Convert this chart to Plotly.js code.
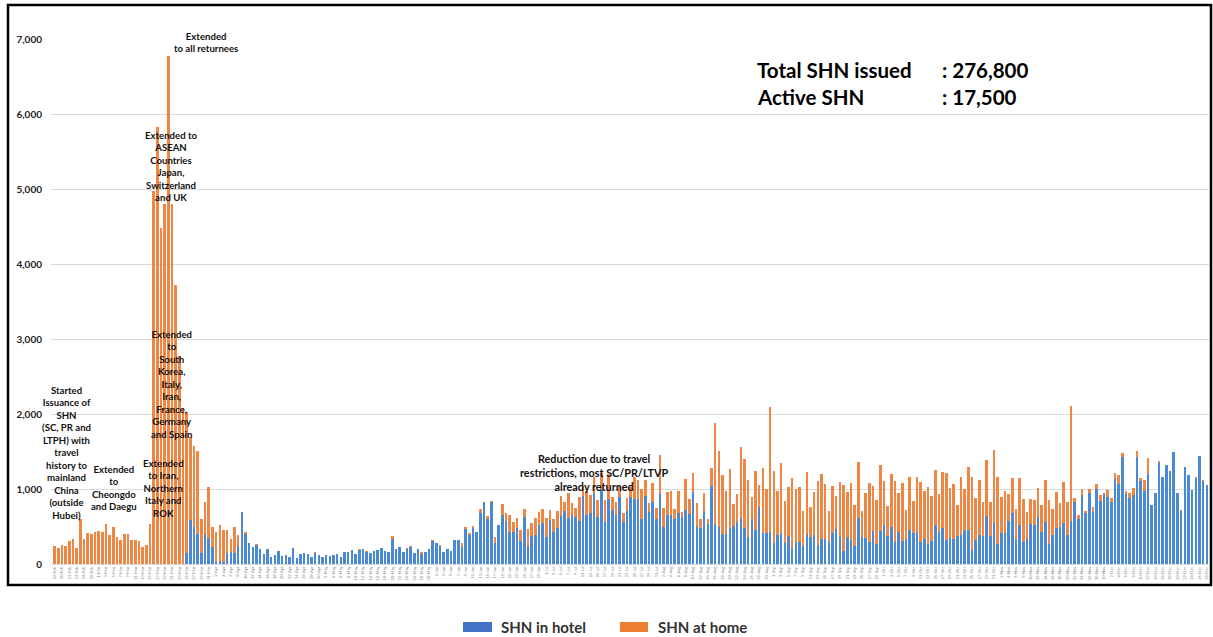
<!DOCTYPE html>
<html>
<head>
<meta charset="utf-8">
<script src="https://cdn.plot.ly/plotly-3.0.1.min.js"></script>
<style>
html,body{margin:0;padding:0;background:#fff;}
#chart{width:1213px;height:637px;}
</style>
</head>
<body>
<div id="chart"></div>
<script>
// ---- DATA ----
var seriesNames = ['SHN in hotel', 'SHN at home'];

var hotel = [
 0,0,0,0,0,0,0,0,0,0,0,0,0,0,0,0,0,0,0,0,0,0,0,0,0,0,0,
 0,0,0,0,0,0,0,0,0,
 142,587,489,396,151,396,347,231,31,40,27,151,164,151,240,689,400,276,231,253,
 196,140,200,89,120,173,111,120,93,218,76,133,142,133,93,142,124,98,116,111,116,133,100,160,165,187,133,191,196,164,
 151,173,191,218,178,160,329,196,222,164,204,231,147,196,133,156,196,307,284,244,156,196,178,320,320,231,471,391,484,431,
 684,827,596,827,276,524,658,573,431,431,476,311,631,240,373,382,516,551,360,587,431,484,640,707,609,653,631,573,911,653,
 684,951,622,996,560,871,720,653,898,564,707,889,871,871,605,907,698,822,604,938,498,658,653,596,676,631,720,671,956,507,
 480,707,533,1040,533,498,404,404,484,511,564,613,480,360,604,453,760,420,413,431,276,387,409,276,373,218,298,298,240,404,
 364,382,253,338,338,298,418,462,373,178,356,320,244,609,356,342,289,444,267,440,520,373,498,298,422,307,329,453,418,431,
 298,338,262,307,524,427,476,320,342,333,373,387,458,453,187,320,382,373,640,373,542,271,413,413,573,676,333,516,289,329,
 533,516,631,431,560,267,387,484,493,551,391,578,831,596,920,684,951,698,1000,840,933,889,831,1133,1067,1427,933,876,920,1431,
 1107,973,1196,782,947,1347,1164,1320,1240,1489,942,707,1298,1191,987,1151,1440,1102,1058
];

var home = [
 240,218,253,245,307,333,213,600,333,409,396,422,440,431,529,391,493,355,315,404,404,320,315,302,231,249,533,
 4970,5830,4480,4800,6780,4800,3716,2780,2080,
 1888,1111,1084,1111,449,426,680,267,400,484,431,307,174,338,147,0,22,0,0,18,
 0,0,0,0,0,0,0,0,0,0,0,0,0,0,0,14,0,0,0,0,8,0,0,0,0,0,0,9,8,9,
 0,0,0,0,0,0,44,0,0,0,14,9,0,0,27,0,0,13,0,9,0,0,0,0,0,53,27,22,23,0,
 49,0,44,17,84,0,138,111,222,133,133,142,98,222,169,227,182,178,249,133,165,227,267,124,342,156,111,316,129,325,
 236,213,231,213,293,325,178,174,142,112,169,142,293,249,400,213,120,262,143,511,249,302,325,142,297,67,413,191,262,302,
 124,235,67,240,1342,1013,783,574,778,289,365,943,915,764,289,791,290,860,583,1658,968,586,933,568,649,924,702,729,467,823,
 396,582,858,862,729,409,626,440,720,871,608,764,543,751,351,609,791,596,586,875,582,400,702,804,520,769,391,703,422,733,
 800,640,760,595,729,506,755,889,676,734,414,769,538,836,969,556,738,449,742,458,978,889,485,565,360,475,400,635,578,369,
 334,337,387,360,560,586,342,480,325,538,431,1529,45,57,84,27,53,58,71,80,18,98,45,76,115,57,45,66,98,76,
 40,147,213,0,0,26,0,0,0,0,0,13,0,0,0,13,0,18,0
];

// tick labels: one every second day, starting 18-Feb
var tickLabels = (
 '18-Feb 20-Feb 22-Feb 24-Feb 26-Feb 28-Feb ' +
 '1-Mar 3-Mar 5-Mar 7-Mar 9-Mar 11-Mar 13-Mar 15-Mar 17-Mar 19-Mar 21-Mar 23-Mar 25-Mar 27-Mar 29-Mar 31-Mar ' +
 '2-Apr 4-Apr 6-Apr 8-Apr 10-Apr 12-Apr 14-Apr 16-Apr 18-Apr 20-Apr 22-Apr 24-Apr 26-Apr 28-Apr 30-Apr ' +
 '2-May 4-May 6-May 8-May 10-May 12-May 14-May 16-May 18-May 20-May 22-May 24-May 26-May 28-May 30-May ' +
 '1-Jun 3-Jun 5-Jun 7-Jun 9-Jun 11-Jun 13-Jun 15-Jun 17-Jun 19-Jun 21-Jun 23-Jun 25-Jun 27-Jun 29-Jun ' +
 '1-Jul 3-Jul 5-Jul 7-Jul 9-Jul 11-Jul 13-Jul 15-Jul 17-Jul 19-Jul 21-Jul 23-Jul 25-Jul 27-Jul 29-Jul 31-Jul ' +
 '2-Aug 4-Aug 6-Aug 8-Aug 10-Aug 12-Aug 14-Aug 16-Aug 18-Aug 20-Aug 22-Aug 24-Aug 26-Aug 28-Aug 30-Aug ' +
 '1-Sep 3-Sep 5-Sep 7-Sep 9-Sep 11-Sep 13-Sep 15-Sep 17-Sep 19-Sep 21-Sep 23-Sep 25-Sep 27-Sep 29-Sep ' +
 '1-Oct 3-Oct 5-Oct 7-Oct 9-Oct 11-Oct 13-Oct 15-Oct 17-Oct 19-Oct 21-Oct 23-Oct 25-Oct 27-Oct 29-Oct 31-Oct ' +
 '2-Nov 4-Nov 6-Nov 8-Nov 10-Nov 12-Nov 14-Nov 16-Nov 18-Nov 20-Nov 22-Nov 24-Nov 26-Nov 28-Nov 30-Nov ' +
 '2-Dec 4-Dec 6-Dec 8-Dec 10-Dec 12-Dec 14-Dec 16-Dec 18-Dec 20-Dec 22-Dec 24-Dec 26-Dec 28-Dec'
).split(' ');

var yTicks = [0, 1000, 2000, 3000, 4000, 5000, 6000, 7000];

var notes = [
 'Started<br>Issuance of<br>SHN<br>(SC, PR and<br>LTPH) with<br>travel<br>history to<br>mainland<br>China<br>(outside<br>Hubei)',
 'Extended<br>to<br>Cheongdo<br>and Daegu',
 'Extended<br>to Iran,<br>Northern<br>Italy and<br>ROK',
 'Extended<br>to<br>South<br>Korea,<br>Italy,<br>Iran,<br>France,<br>Germany<br>and Spain',
 'Extended to<br>ASEAN<br>Countries<br>Japan,<br>Switzerland<br>and UK',
 'Extended<br>to all returnees',
 'Reduction due to travel<br>restrictions, most SC/PR/LTVP<br>already returned'
];
var summaryLabels = ['Total SHN issued', 'Active SHN'];
var summaryValues = [': 276,800', ': 17,500'];

// ---- LAYOUT HELPERS ----
var W = 1213, H = 637;
var M = {l: 51, r: 4, t: 39, b: 73};
var PW = W - M.l - M.r, PH = H - M.t - M.b;
function px(x) { return (x - M.l) / PW; }
function py(y) { return (H - M.b - y) / PH; }

var idx = hotel.map(function (_, i) { return i; });
var tickVals = tickLabels.map(function (_, i) { return i * 2; });

var BLUE = '#4a8ad4', ORANGE = '#ef8644';

var traces = [
 {type: 'bar', x: idx, y: hotel, name: seriesNames[0], marker: {color: BLUE}, showlegend: false, hoverinfo: 'skip'},
 {type: 'bar', x: idx, y: home, name: seriesNames[1], marker: {color: ORANGE}, showlegend: false, hoverinfo: 'skip'}
];

var FAM = 'Lato, "Open Sans", sans-serif';
var noteFont = {family: FAM, size: 9.6, color: '#111', weight: 'bold'};
var notePos = [
 [66, 383], [114, 462], [163, 456], [171, 327], [171, 128], [206, 29], [594, 450]
];
var annotations = notes.map(function (t, k) {
 return {
  xref: 'paper', yref: 'paper', x: px(notePos[k][0]), y: py(notePos[k][1]),
  xanchor: 'center', yanchor: 'top', align: 'center', showarrow: false,
  text: t, font: k === 6 ? {family: FAM, size: 10.8, color: '#111', weight: 'bold'} : noteFont
 };
});
var sumFont = {family: FAM, size: 20.5, color: '#000', weight: 'bold'};
summaryLabels.forEach(function (s, k) {
 annotations.push({xref: 'paper', yref: 'paper', x: px(755), y: py(70 + k * 27), xanchor: 'left', yanchor: 'middle',
  showarrow: false, text: s, font: sumFont});
 annotations.push({xref: 'paper', yref: 'paper', x: px(940), y: py(70 + k * 27), xanchor: 'left', yanchor: 'middle',
  showarrow: false, text: summaryValues[k], font: sumFont});
});
// legend text
var legFont = {family: FAM, size: 15, color: '#333', weight: 'bold'};
annotations.push({xref: 'paper', yref: 'paper', x: px(499), y: py(627), xanchor: 'left', yanchor: 'middle',
 showarrow: false, text: seriesNames[0], font: legFont});
annotations.push({xref: 'paper', yref: 'paper', x: px(656), y: py(627), xanchor: 'left', yanchor: 'middle',
 showarrow: false, text: seriesNames[1], font: legFont});

var shapes = [
 {type: 'rect', xref: 'paper', yref: 'paper', x0: px(8), x1: px(1211), y0: py(585), y1: py(5),
  line: {color: '#000', width: 2.5}, fillcolor: 'rgba(0,0,0,0)', layer: 'above'},
 {type: 'rect', xref: 'paper', yref: 'paper', x0: px(463), x1: px(492), y0: py(632), y1: py(622),
  line: {width: 0}, fillcolor: '#4472C4'},
 {type: 'rect', xref: 'paper', yref: 'paper', x0: px(620), x1: px(648), y0: py(632), y1: py(622),
  line: {width: 0}, fillcolor: '#ED7D31'}
];

var layout = {
 width: W, height: H,
 margin: M,
 paper_bgcolor: '#fff', plot_bgcolor: '#fff',
 barmode: 'stack', bargap: 0.3,
 showlegend: false,
 xaxis: {
  range: [-1, 314.6], tickmode: 'array', tickvals: tickVals, ticktext: tickLabels,
  tickangle: -90, tickfont: {family: 'Lato, sans-serif', size: 4, color: '#888'},
  showgrid: false, zeroline: false, showline: true, linecolor: '#d9d9d9', linewidth: 1,
  ticks: '', fixedrange: true
 },
 yaxis: {
  range: [0, 7000], tickmode: 'array', tickvals: yTicks, tickformat: ',',
  tickfont: {family: 'Lato, sans-serif', size: 10, color: '#222', weight: 'bold'},
  showgrid: true, gridcolor: '#d9d9d9', gridwidth: 1, zeroline: false, showline: false,
  ticks: '', ticklabelstandoff: 8, fixedrange: true
 },
 annotations: annotations,
 shapes: shapes
};

Plotly.newPlot('chart', traces, layout, {displayModeBar: false, staticPlot: true});
</script>
</body>
</html>
